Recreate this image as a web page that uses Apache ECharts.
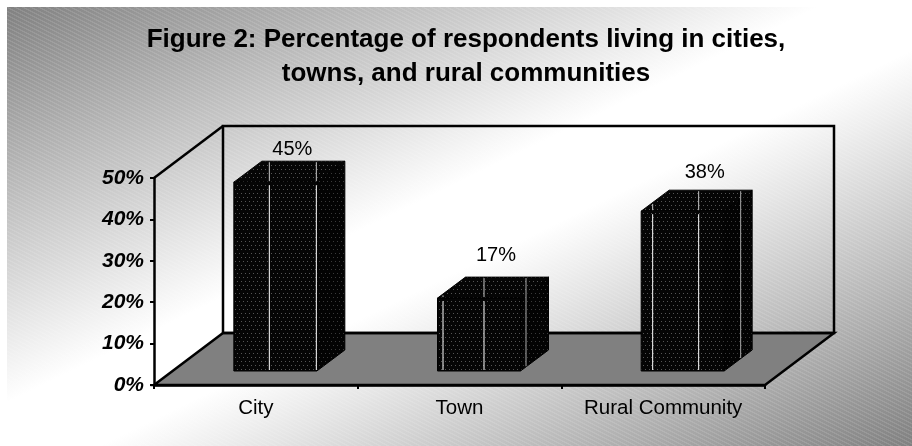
<!DOCTYPE html>
<html><head><meta charset="utf-8">
<style>html,body{margin:0;padding:0;background:#fff}#c{width:912px;height:446px}</style>
<script src="https://cdn.jsdelivr.net/npm/echarts@6/dist/echarts.min.js"></script>
</head><body><div id="c"></div>
<script>
const titleText = 'Figure 2: Percentage of respondents living in cities,\ntowns, and rural communities';
const categories = ['City', 'Town', 'Rural Community'];
const percentages = [45, 17, 38];
const valueLabels = ['45%', '17%', '38%'];
const yTicks = {min: 0, max: 50, interval: 10};

// drawing constants (pixels)
const wallDepth = [69, 52];
const barOffset = [-22, -14];
const barWidth = 83;
const barExtra = 2.5;
const barDepth = [28, 21];
const labelLift = [12, 22, 18];
const labelShift = [0, 0, 5];
const frontStripes = [[35, 82], [5, 46], [11, 57]];
const sideStripes = [[], [88], [99]];
const fontFamily = '"Liberation Sans", Arial, sans-serif';

function dots(base, dot) {
  const c = document.createElement('canvas');
  c.width = 8; c.height = 8;
  const g = c.getContext('2d');
  g.fillStyle = base; g.fillRect(0, 0, 8, 8);
  g.fillStyle = dot;
  g.fillRect(1, 1, 1, 1); g.fillRect(5, 1, 1, 1);
  g.fillRect(3, 5, 1, 1); g.fillRect(7, 5, 1, 1);
  return c;
}
function hatch() {
  const c = document.createElement('canvas');
  c.width = 8; c.height = 4;
  const g = c.getContext('2d');
  g.fillStyle = 'rgba(255,255,255,0.11)';
  g.fillRect(0, 0, 3, 1); g.fillRect(2, 1, 3, 1);
  g.fillRect(4, 2, 3, 1); g.fillRect(6, 3, 2, 1); g.fillRect(0, 3, 1, 1);
  return c;
}
const patFront = {image: dots('#050505', '#555555'), repeat: 'repeat'};
const patSide = {image: dots('#030303', '#3a3a3a'), repeat: 'repeat'};
const line = {stroke: '#000', lineWidth: 2.5, fill: 'none'};

function renderFrame(params) {
  const s = params.coordSys;
  const [dx, dy] = wallDepth;
  const x0 = s.x, x1 = s.x + s.width, y0 = s.y, y1 = s.y + s.height;
  return {type: 'group', children: [
    {type: 'polygon', shape: {points: [[x0, y1], [x0 + dx, y1 - dy], [x1 + dx, y1 - dy], [x1, y1]]},
     style: {fill: '#808080', stroke: '#000', lineWidth: 2.5}},
    {type: 'rect', shape: {x: x0 + dx, y: y0 - dy, width: s.width, height: s.height},
     style: line},
    {type: 'polyline', shape: {points: [[x0, y0], [x0 + dx, y0 - dy]]}, style: line}
  ]};
}

function vline(x, y0, y1, stroke) {
  return {type: 'line', shape: {x1: x + .5, y1: y0, x2: x + .5, y2: y1},
          style: {stroke: stroke, lineWidth: 1}};
}

function renderBar(params, api) {
  const i = params.dataIndex;
  const c = api.coord([api.value(0), 0]);
  const h = api.size([0, api.value(1)])[1] + barExtra;
  const [bx, by] = barDepth;
  const l = c[0] + barOffset[0], r = l + barWidth;
  const b = c[1] + barOffset[1], t = b - h;
  const kids = [
    {type: 'polygon', shape: {points: [[l, t], [l + bx, t - by], [r + bx, t - by], [r, t]]},
     style: {fill: patFront, stroke: '#000', lineWidth: 1}},
    {type: 'polygon', shape: {points: [[r, t], [r + bx, t - by], [r + bx, b - by], [r, b]]},
     style: {fill: patSide, stroke: '#000', lineWidth: 1}},
    {type: 'rect', shape: {x: l, y: t, width: barWidth, height: h},
     style: {fill: patFront, stroke: '#000', lineWidth: 1}}
  ];
  frontStripes[i].forEach(o => {
    kids.push(vline(l + o, t + 3, b - 1, '#fff'));
    kids.push(vline(l + o, Math.max(t - by, t - (o * by / bx)) + 1, t - 1, '#c8c8c8'));
  });
  sideStripes[i].forEach(o => {
    const off = o - barWidth;
    kids.push(vline(r + off, t - by + 1, b - off * by / bx - 1, '#aaaaaa'));
  });
  kids.push({type: 'text', style: {
    text: valueLabels[i], x: l + barWidth / 2 + bx / 2 + 3 + labelShift[i], y: t - by - labelLift[i],
    align: 'center', verticalAlign: 'middle',
    font: '20px ' + fontFamily, fill: '#000'}});
  return {type: 'group', children: kids};
}

const chart = echarts.init(document.getElementById('c'), null, {renderer: 'canvas'});
chart.setOption({
  animation: false,
  backgroundColor: '#ffffff',
  graphic: {elements: [
    {type: 'rect', z: -10, silent: true, shape: {x: 7, y: 7, width: 905, height: 439},
     style: {fill: {type: 'linear', x: 284, y: -130, x2: 632, y2: 584, global: true, colorStops: [
       {offset: 0, color: '#808080'}, {offset: .45, color: '#ffffff'},
       {offset: .55, color: '#ffffff'}, {offset: 1, color: '#808080'}]}}},
    {type: 'rect', z: -9, silent: true, shape: {x: 7, y: 7, width: 905, height: 439},
     style: {fill: {image: hatch(), repeat: 'repeat'}}}
  ]},
  title: {text: titleText, left: 461, top: 18, textAlign: 'center',
    textStyle: {fontFamily: fontFamily, fontWeight: 'bold',
      fontSize: 26, lineHeight: 34, color: '#000'}},
  grid: {left: 154, top: 178, width: 611, height: 207},
  xAxis: {type: 'category', data: categories, z: 6,
    axisLine: {lineStyle: {color: '#000', width: 2.5}},
    axisTick: {show: true, alignWithLabel: false, length: 4, lineStyle: {color: '#000', width: 2}},
    axisLabel: {color: '#000', fontSize: 20.5, margin: 13, interval: 0, fontFamily: fontFamily}},
  yAxis: {type: 'value', min: yTicks.min, max: yTicks.max, interval: yTicks.interval, z: 6,
    splitLine: {show: false},
    axisLine: {show: true, lineStyle: {color: '#000', width: 2.5}},
    axisTick: {show: true, length: 4, lineStyle: {color: '#000', width: 2}},
    axisLabel: {formatter: '{value}%', color: '#000', fontSize: 21, fontWeight: 'bold',
      fontStyle: 'italic', margin: 10, fontFamily: fontFamily}},
  series: [
    {type: 'custom', coordinateSystem: 'cartesian2d', z: 1, silent: true,
     renderItem: renderFrame, data: [[0, 0]], clip: false},
    {type: 'custom', coordinateSystem: 'cartesian2d', z: 2,
     renderItem: renderBar, clip: false,
     encode: {x: 0, y: 1},
     data: categories.map((c, i) => [i, percentages[i]])}
  ]
});
</script></body></html>
